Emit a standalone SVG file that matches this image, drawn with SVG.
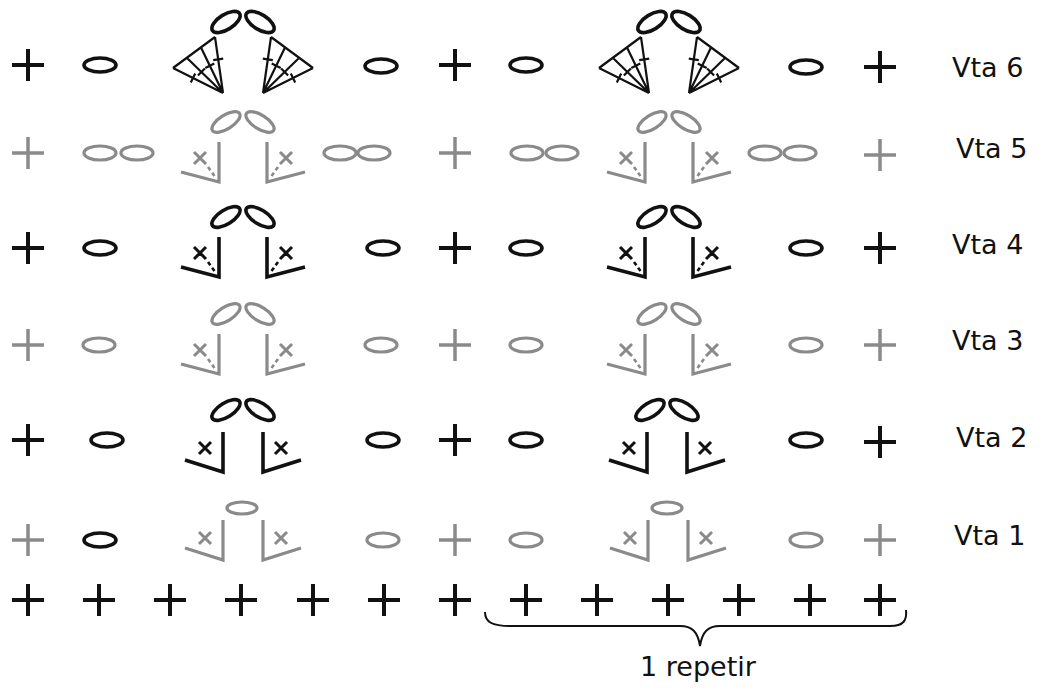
<svg xmlns="http://www.w3.org/2000/svg" width="1042" height="689" viewBox="0 0 1042 689">
<style>
.k{stroke:#111;fill:none;stroke-linecap:butt;stroke-linejoin:miter}
.g{stroke:#8a8a8a;fill:none;stroke-linejoin:miter}
.kp{stroke-width:4}
.gp{stroke-width:3.5}
.ko{stroke-width:3.6}
.go{stroke-width:3.2}
.lbl{font-family:"DejaVu Sans","Liberation Sans",sans-serif;font-size:27px;fill:#111}
</style>
<defs>
<path id="plus" d="M-16,0H16M0,-16V16"/>
<ellipse id="ch" cx="0" cy="0" rx="16" ry="7"/>
<g id="vA">
<path d="M-62,19L-24,29V-11M62,19L24,29V-11"/>
<path d="M-49,-1L-37,11M-37,-1L-49,11M49,-1L37,11M37,-1L49,11" stroke-width="3"/>
<path d="M-35,14L-27,25M35,14L27,25" stroke-dasharray="4,3" stroke-width="2.6"/>
<ellipse cx="-17" cy="-31" rx="16" ry="7" transform="rotate(-32 -17 -31)"/>
<ellipse cx="17" cy="-31" rx="16" ry="7" transform="rotate(32 17 -31)"/>
</g>
<g id="vB">
<path d="M-58,20L-20,32V-8M58,20L20,32V-8"/>
<path d="M-44,2L-32,14M-32,2L-44,14M44,2L32,14M32,2L44,14" stroke-width="3"/>
<ellipse cx="-17" cy="-30" rx="16" ry="7" transform="rotate(-32 -17 -30)"/>
<ellipse cx="17" cy="-30" rx="16" ry="7" transform="rotate(32 17 -30)"/>
</g>
<g id="vC">
<path d="M-58,8L-20,20V-20M58,8L20,20V-20"/>
<path d="M-44,-8L-32,4M-32,-8L-44,4M44,-8L32,4M32,-8L44,4" stroke-width="3"/>
<ellipse cx="-1" cy="-32" rx="15" ry="6"/>
</g>
<g id="fan">
<path d="M-70,3L-28,-28M-20,28L-70,3M-20,28L-56,-7M-20,28L-42,-17.5M-20,28L-28,-28" stroke-width="2.2"/>
<path d="M-47.8,8.5L-52.2,17.5M-38.1,3.4L-45.1,10.6M-28.7,-1.5L-37.7,2.9M-19.8,-6.3L-29.8,-4.9" stroke-width="2.2"/>
<path d="M70,3L28,-28M20,28L70,3M20,28L56,-7M20,28L42,-17.5M20,28L28,-28" stroke-width="2.2"/>
<path d="M47.8,8.5L52.2,17.5M38.1,3.4L45.1,10.6M28.7,-1.5L37.7,2.9M19.8,-6.3L29.8,-4.9" stroke-width="2.2"/>
<ellipse cx="-17" cy="-43" rx="16" ry="7.5" transform="rotate(-32 -17 -43)" stroke-width="3.6"/>
<ellipse cx="17" cy="-43" rx="16" ry="7.5" transform="rotate(32 17 -43)" stroke-width="3.6"/>
</g>
</defs>

<g id="row6">
<use href="#plus" class="k kp" x="28" y="65"/>
<use href="#ch" class="k ko" x="100" y="65"/>
<use href="#fan" class="k" x="243" y="65"/>
<use href="#ch" class="k ko" x="381" y="66"/>
<use href="#plus" class="k kp" x="455" y="65"/>
<use href="#ch" class="k ko" x="526" y="65"/>
<use href="#fan" class="k" x="669" y="65"/>
<use href="#ch" class="k ko" x="806" y="67"/>
<use href="#plus" class="k kp" x="880" y="67"/>
</g>

<g id="row5">
<use href="#plus" class="g gp" x="28" y="153"/>
<use href="#ch" class="g go" x="100" y="153"/>
<use href="#ch" class="g go" x="137" y="153"/>
<use href="#vA" class="g go" x="243" y="153"/>
<use href="#ch" class="g go" x="340" y="153"/>
<use href="#ch" class="g go" x="374" y="153"/>
<use href="#plus" class="g gp" x="455" y="153"/>
<use href="#ch" class="g go" x="527" y="153"/>
<use href="#ch" class="g go" x="562" y="153"/>
<use href="#vA" class="g go" x="669" y="153"/>
<use href="#ch" class="g go" x="765" y="153"/>
<use href="#ch" class="g go" x="800" y="153"/>
<use href="#plus" class="g gp" x="880" y="155"/>
</g>

<g id="row4">
<use href="#plus" class="k kp" x="28" y="248"/>
<use href="#ch" class="k ko" x="100" y="248"/>
<use href="#vA" class="k ko" x="243" y="248"/>
<use href="#ch" class="k ko" x="383" y="248"/>
<use href="#plus" class="k kp" x="455" y="248"/>
<use href="#ch" class="k ko" x="526" y="248"/>
<use href="#vA" class="k ko" x="669" y="248"/>
<use href="#ch" class="k ko" x="806" y="248"/>
<use href="#plus" class="k kp" x="880" y="248"/>
</g>

<g id="row3">
<use href="#plus" class="g gp" x="28" y="345"/>
<use href="#ch" class="g go" x="99" y="345"/>
<use href="#vA" class="g go" x="243" y="345"/>
<use href="#ch" class="g go" x="381" y="345"/>
<use href="#plus" class="g gp" x="455" y="345"/>
<use href="#ch" class="g go" x="526" y="345"/>
<use href="#vA" class="g go" x="669" y="345"/>
<use href="#ch" class="g go" x="806" y="345"/>
<use href="#plus" class="g gp" x="880" y="345"/>
</g>

<g id="row2">
<use href="#plus" class="k kp" x="28" y="440"/>
<use href="#ch" class="k ko" x="107" y="440"/>
<use href="#vB" class="k ko" x="243" y="440"/>
<use href="#ch" class="k ko" x="383" y="440"/>
<use href="#plus" class="k kp" x="455" y="440"/>
<use href="#ch" class="k ko" x="526" y="440"/>
<use href="#vB" class="k ko" x="667" y="440"/>
<use href="#ch" class="k ko" x="806" y="440"/>
<use href="#plus" class="k kp" x="880" y="442"/>
</g>

<g id="row1">
<use href="#plus" class="g gp" x="28" y="540"/>
<use href="#ch" class="k ko" x="100" y="540"/>
<use href="#vC" class="g go" x="243" y="540"/>
<use href="#ch" class="g go" x="383" y="540"/>
<use href="#plus" class="g gp" x="455" y="540"/>
<use href="#ch" class="g go" x="526" y="540"/>
<use href="#vC" class="g go" x="668" y="540"/>
<use href="#ch" class="g go" x="806" y="540"/>
<use href="#plus" class="g gp" x="880" y="540"/>
</g>

<g id="foundation">
<use href="#plus" class="k kp" x="28" y="600"/>
<use href="#plus" class="k kp" x="99" y="600"/>
<use href="#plus" class="k kp" x="170" y="600"/>
<use href="#plus" class="k kp" x="241" y="600"/>
<use href="#plus" class="k kp" x="313" y="600"/>
<use href="#plus" class="k kp" x="384" y="600"/>
<use href="#plus" class="k kp" x="455" y="600"/>
<use href="#plus" class="k kp" x="526" y="600"/>
<use href="#plus" class="k kp" x="597" y="600"/>
<use href="#plus" class="k kp" x="668" y="600"/>
<use href="#plus" class="k kp" x="739" y="600"/>
<use href="#plus" class="k kp" x="810" y="600"/>
<use href="#plus" class="k kp" x="880" y="600"/>
</g>

<g id="brace">
<path class="k" stroke-width="2" d="M485,612C485,622 492,626 510,626H680C692,626 698,632 700,646C702,632 708,626 720,626H890C904,626 907,620 906,610"/>
</g>

<g id="labels">
<text class="lbl" x="952" y="77">Vta 6</text>
<text class="lbl" x="956" y="158">Vta 5</text>
<text class="lbl" x="952" y="254">Vta 4</text>
<text class="lbl" x="952" y="350">Vta 3</text>
<text class="lbl" x="956" y="447">Vta 2</text>
<text class="lbl" x="954" y="545">Vta 1</text>
<text class="lbl" x="640" y="676">1 repetir</text>
</g>
</svg>
